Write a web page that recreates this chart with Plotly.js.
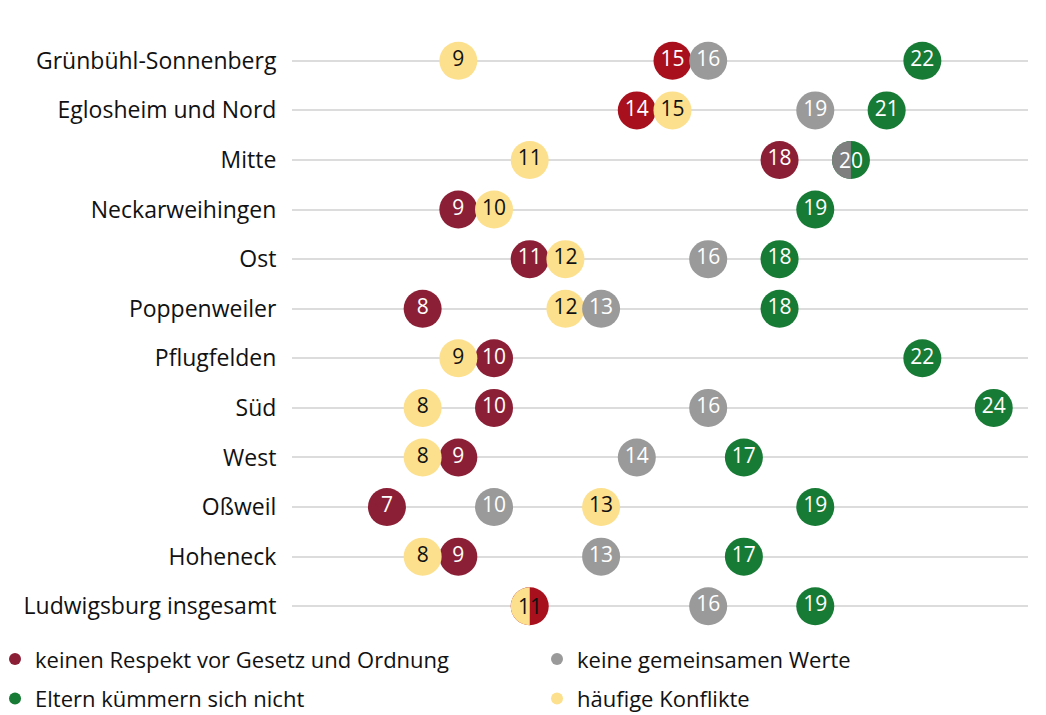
<!DOCTYPE html>
<html>
<head>
<meta charset="utf-8">
<script src="https://cdn.plot.ly/plotly-3.0.1.min.js"></script>
<style>html,body{margin:0;padding:0;background:#fff;}#chart{width:1046px;height:715px;}</style>
</head>
<body>
<div id="chart"></div>
<script>
const categories = ["Grünbühl-Sonnenberg","Eglosheim und Nord","Mitte","Neckarweihingen","Ost","Poppenweiler","Pflugfelden","Süd","West","Oßweil","Hoheneck","Ludwigsburg insgesamt"];
const respekt   = [15,14,18,9,11,8,10,10,9,7,9,11];
const werte     = [16,19,20,null,16,13,null,16,14,10,13,16];
const eltern    = [22,21,20,19,18,18,22,24,17,19,17,19];
const konflikte = [9,15,11,10,12,12,9,8,8,13,8,11];
const seriesNames = ["keinen Respekt vor Gesetz und Ordnung","keine gemeinsamen Werte","Eltern kümmern sich nicht","häufige Konflikte"];

const C = {red:"#8b1f36", redBright:"#a8101d", gray:"#9a9a9a", grayDark:"#7f7f7f", green:"#177a35", yellow:"#fde08d"};
const brightRed = ["Grünbühl-Sonnenberg","Eglosheim und Nord","Ludwigsburg insgesamt"];
const darkGray = ["Mitte"];
const D = 38, R = D/2;
const FONT = "Open Sans, Noto Sans, sans-serif";

// split points (equal values): left half one series, right half the other
const splits = [];
categories.forEach((c,i)=>{
  if (werte[i]!==null && werte[i]===eltern[i]) splits.push({c, v:werte[i], left:"werte", right:"eltern"});
  if (konflikte[i]===respekt[i]) splits.push({c, v:konflikte[i], left:"konflikte", right:"respekt"});
});
const isSplit = (c, key) => splits.some(s => s.c===c && (s.left===key || s.right===key));
const isLeft = (c, key) => splits.some(s => s.c===c && s.left===key);

const colorOf = {
  respekt: c => brightRed.includes(c) ? C.redBright : C.red,
  werte: c => darkGray.includes(c) ? C.grayDark : C.gray,
  eltern: () => C.green,
  konflikte: () => C.yellow
};
const textColorOf = {respekt:"#ffffff", werte:"#ffffff", eltern:"#ffffff", konflikte:"#111111"};

function mk(key, vals){
  return {
    type:"scatter", mode:"markers+text", x:vals, y:categories, showlegend:false, hoverinfo:"skip",
    cliponaxis:false,
    marker:{size:D, color:categories.map(colorOf[key]), line:{width:0},
      opacity:categories.map(c => isLeft(c, key) ? 0 : 1)},
    text: vals.map((v,i)=> (v===null || isSplit(categories[i], key)) ? "" : String(v)),
    textposition:"middle center",
    textfont:{family:FONT, size:21, color:textColorOf[key]}
  };
}

const traces = [
  mk("respekt", respekt),
  mk("konflikte", konflikte),
  mk("werte", werte),
  mk("eltern", eltern)
];
// legend entries: two legends (columns)
const legendColors = [C.red, C.gray, C.green, C.yellow];
const legendIds = ["legend","legend2","legend","legend2"];
seriesNames.forEach((n,i)=>{
  traces.push({type:"scatter", mode:"markers", x:[null], y:[null], name:n, showlegend:true,
    legend:legendIds[i], legendgroup:"g"+i,
    marker:{size:12, color:legendColors[i]}, hoverinfo:"skip"});
});

const k = 0.5523*R;
const leftHalf = `M 0,${R} C ${-k},${R} ${-R},${k} ${-R},0 C ${-R},${-k} ${-k},${-R} 0,${-R} Z`;
const shapes = [], annotations = [];
splits.forEach(s=>{
  shapes.push({type:"path", layer:"above", xref:"x", yref:"y", xsizemode:"pixel", ysizemode:"pixel",
    xanchor:s.v, yanchor:s.c, path:leftHalf, fillcolor:colorOf[s.left](s.c), line:{width:0}});
  const dark = textColorOf[s.left]==="#111111" || textColorOf[s.right]==="#111111";
  annotations.push({x:s.v, y:s.c, xref:"x", yref:"y", text:String(s.v), showarrow:false,
    font:{family:FONT, size:21, color: dark ? "#111111" : "#ffffff"}});
});

const legendBase = {orientation:"v", xref:"paper", yref:"container", y:0.1075, xanchor:"left", yanchor:"top",
  itemwidth:30, tracegroupgap:8, font:{family:FONT, size:22, color:"#111111"}, bgcolor:"rgba(0,0,0,0)", borderwidth:0};

const layout = {
  width:1046, height:715,
  margin:{l:292, r:18, t:36, b:84, autoexpand:false},
  paper_bgcolor:"#ffffff", plot_bgcolor:"#ffffff",
  xaxis:{range:[4.34,24.96], autorange:false, showgrid:false, zeroline:false, showticklabels:false, showline:false, fixedrange:true},
  yaxis:{type:"category", categoryorder:"array", categoryarray:categories, range:[categories.length-0.5, -0.5], autorange:false,
    showgrid:true, gridcolor:"#dcdcdc", gridwidth:2, zeroline:false, showline:false,
    ticks:"outside", ticklen:10, tickcolor:"rgba(0,0,0,0)", automargin:false,
    tickfont:{family:FONT, size:23, color:"#111111"}},
  showlegend:true,
  legend:Object.assign({}, legendBase, {x:-0.4035}),
  legend2:Object.assign({}, legendBase, {x:0.3329}),
  shapes, annotations,
  hovermode:false
};
Plotly.newPlot("chart", traces, layout, {displayModeBar:false, staticPlot:true});
</script>
</body>
</html>
